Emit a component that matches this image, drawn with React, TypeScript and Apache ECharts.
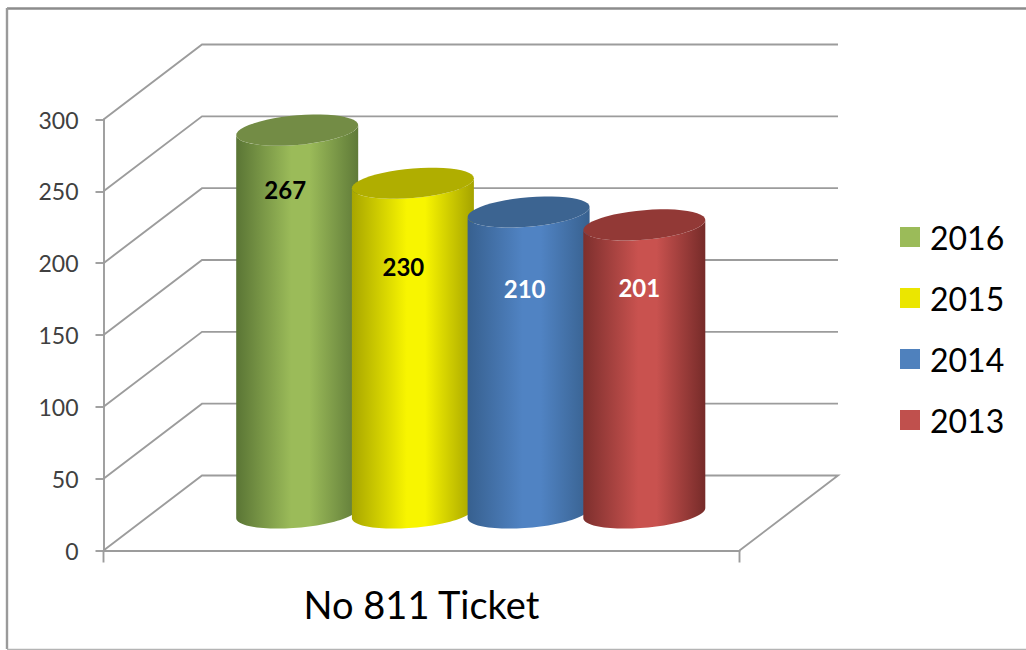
import React, { useEffect, useRef } from "react";
import * as echarts from "echarts";

const categories = ["No 811 Ticket"];
const seriesNames = ["2016", "2015", "2014", "2013"];
const seriesValues = [267, 230, 210, 201];
const yTicks = [0, 50, 100, 150, 200, 250, 300];

const swatchColors = ["#9bbb59", "#ebe600", "#4f81bd", "#c0504d"];
const capColors = ["#738c45", "#b0ae00", "#3c6491", "#923936"];
const sideStops = [
  ["#5a7535", "#9bbb59", "#9bbb59", "#5f7a38"],
  ["#a8a600", "#f8f500", "#f8f500", "#a5a300"],
  ["#37608f", "#5083c3", "#5083c3", "#38618f"],
  ["#7d2f2d", "#c9524f", "#c9524f", "#762b29"],
];
const labelColors = ["#000000", "#000000", "#ffffff", "#ffffff"];
const labelNudge = [[-12, 59.8], [-9.5, 83.3], [-4, 76.8], [-5, 62.8]];

const DEPTH_X = 98.5;
const DEPTH_Y = 75;
const CAP_DROP = 0.7;
const STEP = 115.7;
const RX = 61;
const RY = 14.8;
const SHEAR = 5 / 61;
const FONT = "Lato, Carlito, Calibri, sans-serif";
const AXIS_GRAY = "#9c9c9c";
const AXIS_WIDTH = 1.9;

function ellipsePoint(cx: number, cy: number, t: number): [number, number] {
  return [cx + RX * Math.cos(t), cy + RY * Math.sin(t) - SHEAR * RX * Math.cos(t)];
}

function arc(cx: number, cy: number, from: number, to: number): [number, number][] {
  const n = 48;
  const out: [number, number][] = [];
  for (let i = 0; i <= n; i++) out.push(ellipsePoint(cx, cy, from + ((to - from) * i) / n));
  return out;
}

function frameItem(params: any, api: any) {
  const value = api.value(0);
  const cs = params.coordSys;
  const y = api.coord([0, value])[1];
  const left = cs.x;
  const right = cs.x + cs.width;
  const pts: number[][] = [
    [left, y],
    [left + DEPTH_X, y - DEPTH_Y],
    [right + DEPTH_X, y - DEPTH_Y],
  ];
  if (value === 0) pts.push([right, y]);
  const style = { stroke: AXIS_GRAY, lineWidth: AXIS_WIDTH, fill: "none" };
  const children: any[] = [{ type: "polyline", shape: { points: pts }, style }];
  if (value === 0) {
    for (const x of [left, right]) {
      children.push({ type: "line", shape: { x1: x, y1: y, x2: x, y2: y + 12 }, style });
    }
  }
  return { type: "group", silent: true, children };
}

function barItem(index: number) {
  return (_params: any, api: any) => {
    const value = api.value(1);
    const top = api.coord([0, value]);
    const base = api.coord([0, 0]);
    const cx = top[0] + DEPTH_X / 2 + (index - (seriesNames.length - 1) / 2) * STEP;
    const yTop = top[1] - DEPTH_Y / 2 + CAP_DROP;
    const yBase = base[1] - DEPTH_Y / 2;
    const s = sideStops[index];
    const body = [...arc(cx, yTop, Math.PI, 0), ...arc(cx, yBase, 0, Math.PI)];
    return {
      type: "group",
      children: [
        {
          type: "polygon",
          shape: { points: body },
          style: {
            fill: new echarts.graphic.LinearGradient(0, 0, 1, 0, [
              { offset: 0, color: s[0] },
              { offset: 0.45, color: s[1] },
              { offset: 0.6, color: s[2] },
              { offset: 1, color: s[3] },
            ]),
          },
        },
        {
          type: "polygon",
          shape: { points: arc(cx, yTop, 0, Math.PI * 2) },
          style: { fill: capColors[index] },
        },
        {
          type: "text",
          x: cx + labelNudge[index][0],
          y: yTop + labelNudge[index][1],
          style: {
            text: String(value),
            align: "center",
            verticalAlign: "middle",
            fill: labelColors[index],
            fontSize: 24,
            fontWeight: "bold",
            fontFamily: FONT,
          },
        },
      ],
    };
  };
}

export default function App() {
  const ref = useRef<HTMLDivElement>(null);
  useEffect(() => {
    const chart = echarts.init(ref.current!, undefined, { renderer: "svg" });
    chart.setOption({
      animation: false,
      backgroundColor: "#ffffff",
      grid: { left: 103.5, right: 286.5, top: 119.5, height: 431 },
      xAxis: {
        type: "category",
        data: categories,
        axisLine: { lineStyle: { color: AXIS_GRAY, width: AXIS_WIDTH } },
        axisTick: { show: false },
        axisLabel: { color: "#000000", fontSize: 38, fontFamily: FONT, margin: 34 },
      },
      yAxis: {
        type: "value",
        min: 0,
        max: 300,
        interval: 50,
        axisLine: { show: true, lineStyle: { color: AXIS_GRAY, width: AXIS_WIDTH } },
        axisTick: { show: true, length: 8, lineStyle: { color: AXIS_GRAY, width: AXIS_WIDTH } },
        splitLine: { show: false },
        axisLabel: { color: "#404040", fontSize: 23, fontFamily: FONT, margin: 25 },
      },
      legend: {
        orient: "vertical",
        left: 900,
        top: 221,
        itemWidth: 20,
        itemHeight: 20,
        itemGap: 29,
        icon: "rect",
        data: seriesNames,
        selectedMode: false,
        textStyle: { color: "#000000", fontSize: 32, fontFamily: FONT, lineHeight: 20, padding: [0, 0, 0, 5] },
        padding: 0,
      },
      graphic: [
        { type: "line", silent: true, shape: { x1: 7, y1: 8.5, x2: 1026, y2: 8.5 }, style: { stroke: "#8c8c8c", lineWidth: 2.4 } },
        { type: "line", silent: true, shape: { x1: 7, y1: 8, x2: 7, y2: 649 }, style: { stroke: "#9a9a9a", lineWidth: 2.4 } },
        { type: "line", silent: true, shape: { x1: 7, y1: 649.3, x2: 1026, y2: 649.3 }, style: { stroke: "#b4b4b4", lineWidth: 1.2 } },
      ],
      series: [
        {
          type: "custom",
          silent: true,
          coordinateSystem: "cartesian2d",
          renderItem: frameItem,
          data: yTicks.map((v) => [v]),
          encode: { y: 0 },
          z: 1,
        },
        ...seriesNames.map((name, i) => ({
          type: "custom",
          name,
          coordinateSystem: "cartesian2d",
          renderItem: barItem(i),
          data: [[0, seriesValues[i]]],
          encode: { x: 0, y: 1 },
          itemStyle: { color: swatchColors[i] },
          z: 3 + i,
        })),
      ],
    });
    return () => chart.dispose();
  }, []);
  return <div ref={ref} style={{ position: "absolute", left: 0, top: 0, width: 1026, height: 650 }} />;
}
